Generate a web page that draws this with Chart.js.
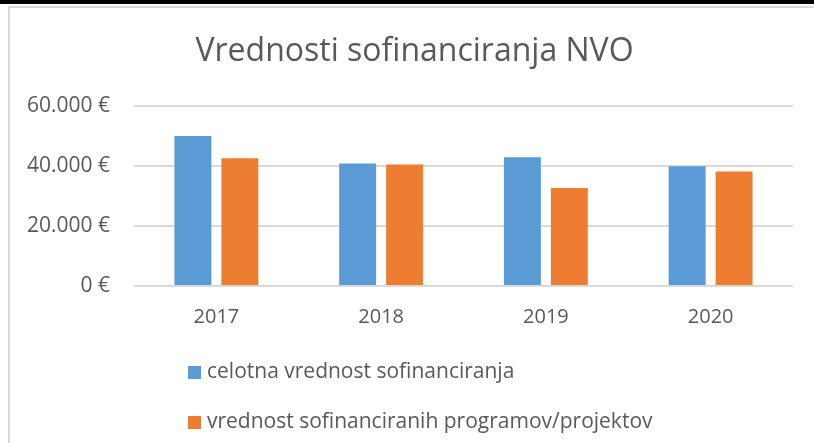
<!DOCTYPE html>
<html>
  <head>
    <meta charset="UTF-8" />
    <title>Vrednosti sofinanciranja NVO</title>
    <style>
      html,
      body {
        margin: 0;
        padding: 0;
        width: 814px;
        height: 443px;
        overflow: hidden;
        background: #ffffff;
      }
      .top-bar {
        position: absolute;
        left: 0;
        top: 0;
        width: 814px;
        height: 4px;
        background: #000000;
      }
      .frame {
        position: absolute;
        left: 8px;
        top: 6px;
        width: 830px;
        height: 460px;
        border-top: 2px solid #d9d9d9;
        border-left: 2px solid #d9d9d9;
      }
      #chart {
        position: absolute;
        left: 0;
        top: 0;
      }
    </style>
    <script src="https://cdn.jsdelivr.net/npm/chart.js"></script>
  </head>
  <body>
    <div class="top-bar"></div>
    <div class="frame"></div>
    <canvas id="chart" width="814" height="443"></canvas>
    <script>
      // podatki
      const years = ["2017", "2018", "2019", "2020"];
      const celotnaVrednost = [50000, 40800, 42900, 39900];
      const vrednostProgramov = [42600, 40500, 32700, 38200];
      const seriesNames = [
        "celotna vrednost sofinanciranja",
        "vrednost sofinanciranih programov/projektov",
      ];
      const yTicks = [0, 20000, 40000, 60000];

      const textColor = "#595959";
      const fontFamily = "'Open Sans', 'DejaVu Sans', sans-serif";

      const euro = (v) =>
        String(v).replace(/\B(?=(\d{3})+(?!\d))/g, ".") + " €";

      // legenda pod grafom, ena postavka na vrstico
      const sideLegend = {
        id: "sideLegend",
        afterLayout(chart) {
          // naslov je v izvirniku malo desno od sredine
          if (chart.titleBlock) {
            chart.titleBlock.left += 18;
            chart.titleBlock.right += 18;
          }
        },
        afterDraw(chart) {
          const ctx = chart.ctx;
          const rows = [372, 422];
          ctx.save();
          ctx.font = "21px " + fontFamily;
          ctx.textBaseline = "middle";
          ctx.textAlign = "left";
          chart.data.datasets.forEach((ds, i) => {
            const y = rows[i];
            ctx.fillStyle = ds.backgroundColor;
            ctx.fillRect(188, y - 6, 13, 13);
            ctx.fillStyle = textColor;
            ctx.fillText(ds.label, 207, y);
          });
          ctx.restore();
        },
      };

      new Chart(document.getElementById("chart"), {
        type: "bar",
        data: {
          labels: years,
          datasets: [
            {
              label: seriesNames[0],
              data: celotnaVrednost,
              backgroundColor: "#5b9bd5",
            },
            {
              label: seriesNames[1],
              data: vrednostProgramov,
              backgroundColor: "#ed7d31",
            },
          ],
        },
        options: {
          responsive: false,
          animation: false,
          devicePixelRatio: 1,
          categoryPercentage: 0.57,
          barPercentage: 0.787,
          layout: {
            padding: { left: 0, right: 21, top: 0, bottom: 95 },
          },
          plugins: {
            legend: { display: false },
            tooltip: { enabled: false },
            title: {
              display: true,
              text: "Vrednosti sofinanciranja NVO",
              color: textColor,
              font: { family: fontFamily, size: 32, weight: "normal", lineHeight: 1.2 },
              padding: { top: 32.5, bottom: 35.1 },
            },
          },
          scales: {
            x: {
              grid: { display: false, drawTicks: false },
              border: { display: false },
              ticks: {
                color: textColor,
                padding: 19,
                font: { family: fontFamily, size: 20 },
              },
            },
            y: {
              min: 0,
              max: 60000,
              afterFit(scale) {
                scale.width = 134;
              },
              afterBuildTicks(scale) {
                scale.ticks = yTicks.map((v) => ({ value: v }));
              },
              grid: { color: "#d9d9d9", lineWidth: 2, drawTicks: false },
              border: { display: false },
              ticks: {
                color: textColor,
                padding: 24,
                font: { family: fontFamily, size: 21 },
                callback: (v) => euro(v),
              },
            },
          },
        },
        plugins: [sideLegend],
      });
    </script>
  </body>
</html>
